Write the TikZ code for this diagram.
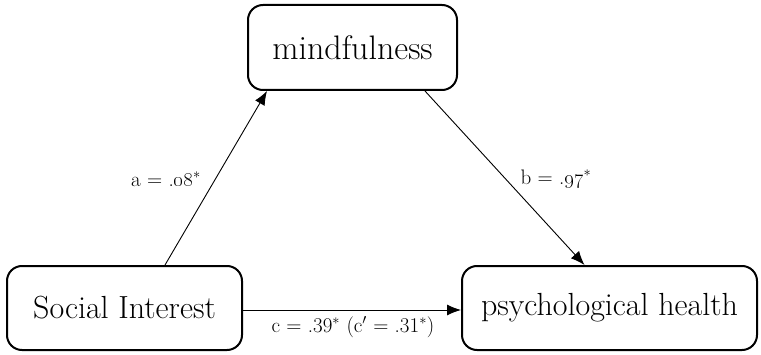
\documentclass[tikz,border=0pt]{standalone}
\usepackage{amsmath}
\usepackage{tikz}
\usetikzlibrary{arrows.meta,positioning,calc}

\tikzset{
  varbox/.style={draw,line width=2pt,rounded corners=15pt,minimum height=84pt,
    font=\fontsize{32}{38}\selectfont,inner sep=0pt},
  path/.style={line width=0.9pt,-{Latex[length=14pt,width=11pt]}},
  coef/.style={font=\fontsize{21}{25}\selectfont,inner sep=0pt}
}

\begin{document}
\begin{tikzpicture}[x=1pt,y=1pt]
  \useasboundingbox (0,0) rectangle (761,354);

  % 変数
  \node[varbox,minimum width=209pt,minimum height=85pt,font=\fontsize{34}{40}\selectfont] (mind) at (352.5,306.5) {mindfulness};
  \node[varbox,minimum width=235pt] (social) at (124.5,46) {Social Interest};
  \node[varbox,minimum width=295pt] (health) at (609.5,46) {psychological health};

  % 経路
  \draw[path] ([xshift=40.5pt]social.north) -- ([xshift=-85.5pt]mind.south);
  \draw[path] ([xshift=72.5pt]mind.south) -- ([xshift=-25pt]health.north);
  \draw[path] (social.east |- 0,44) -- (health.west |- 0,44);

  % 係数
  \node[coef] (la) at (166,175) {a = .\oldstylenums{08}$^*$};
  \node[coef] (lb) at (556,175) {b = .\oldstylenums{97}$^*$};
  \node[coef] (lc) at (353,27) {c = .39$^*$ (c$'$ = .31$^*$)};
\end{tikzpicture}
\end{document}
